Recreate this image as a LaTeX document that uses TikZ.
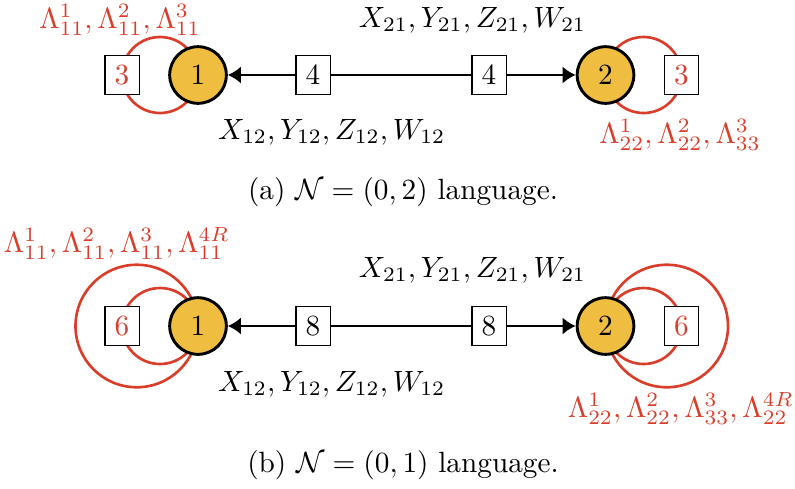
\documentclass[tikz,border=0pt]{standalone}
\usepackage{tikz}
\usetikzlibrary{arrows.meta,backgrounds,calc}
\definecolor{gaugeyellow}{RGB}{239,189,64}
\definecolor{lambdared}{RGB}{218,62,42}
\tikzset{
  gauge/.style={
    circle,
    fill=gaugeyellow,
    draw=black,
    line width=1pt,
    minimum size=0.68cm,
    inner sep=0pt,
  },
  flavour/.style={
    rectangle,
    fill=white,
    draw=black,
  },
  bifund/.style={
    line width=1pt,
    -{Latex[length=4.5pt,width=6pt]},
  },
  lambda/.style={
    draw=lambdared,
    line width=0.9pt,
  },
  fieldtext/.style={
    inner sep=0pt,
  }
}

\begin{document}
\begin{tikzpicture}
  \useasboundingbox (0, 0) rectangle (9.54, 5.856);

  % (a) N=(0,2)
  \node[flavour, text=lambdared] (fa1) at (1.464, 4.956) {3};
  \node[gauge] (ga1) at (2.376, 4.956) {1};
  \node[flavour] (ba1) at (3.756, 4.956) {4};
  \node[flavour] (ba2) at (5.868, 4.956) {4};
  \node[gauge] (ga2) at (7.266, 4.956) {2};
  \node[flavour, text=lambdared] (fa2) at (8.178, 4.956) {3};

  \begin{scope}[on background layer]
    \draw[lambda] ($(fa1)!0.5!(ga1)$) circle (0.456);
    \draw[lambda] ($(ga2)!0.5!(fa2)$) circle (0.456);
  \end{scope}

  \draw[bifund] (ba1) -- (ga1);
  \draw[line width=1pt] (ba1) -- (ba2);
  \draw[bifund] (ba2) -- (ga2);

  \node[fieldtext] (xa21) at (5.67, 5.616) {$X_{21}, Y_{21}, Z_{21}, W_{21}$};
  \node[fieldtext] (xa12) at (3.98, 4.27) {$X_{12}, Y_{12}, Z_{12}, W_{12}$};
  \node[fieldtext, text=lambdared] (la11) at (1.44, 5.616) {$\Lambda^1_{11}, \Lambda^2_{11}, \Lambda^3_{11}$};
  \node[fieldtext, text=lambdared] (la22) at (8.16, 4.236) {$\Lambda^1_{22}, \Lambda^2_{22}, \Lambda^3_{33}$};
  \node[fieldtext] (capa) at (4.836, 3.55) {(a) $\mathcal{N}=(0,2)$ language.};

  % (b) N=(0,1)
  \node[flavour, text=lambdared] (fb1) at (1.464, 1.944) {6};
  \node[gauge] (gb1) at (2.376, 1.944) {1};
  \node[flavour] (bb1) at (3.756, 1.944) {8};
  \node[flavour] (bb2) at (5.868, 1.944) {8};
  \node[gauge] (gb2) at (7.266, 1.944) {2};
  \node[flavour, text=lambdared] (fb2) at (8.178, 1.944) {6};

  \begin{scope}[on background layer]
    \draw[lambda] ($(fb1)!0.5!(gb1)$) circle (0.456);
    \draw[lambda] ($(gb1)+(-0.735,0)$) circle (0.735);
    \draw[lambda] ($(gb2)!0.5!(fb2)$) circle (0.456);
    \draw[lambda] ($(gb2)+(0.735,0)$) circle (0.735);
  \end{scope}

  \draw[bifund] (bb1) -- (gb1);
  \draw[line width=1pt] (bb1) -- (bb2);
  \draw[bifund] (bb2) -- (gb2);

  \node[fieldtext] (xb21) at (5.67, 2.616) {$X_{21}, Y_{21}, Z_{21}, W_{21}$};
  \node[fieldtext] (xb12) at (3.98, 1.25) {$X_{12}, Y_{12}, Z_{12}, W_{12}$};
  \node[fieldtext, text=lambdared] (lb11) at (1.40, 2.93) {$\Lambda^1_{11}, \Lambda^2_{11}, \Lambda^3_{11}, \Lambda^{4R}_{11}$};
  \node[fieldtext, text=lambdared] (lb22) at (8.17, 0.95) {$\Lambda^1_{22}, \Lambda^2_{22}, \Lambda^3_{33}, \Lambda^{4R}_{22}$};
  \node[fieldtext] (capb) at (4.836, 0.276) {(b) $\mathcal{N}=(0,1)$ language.};

\end{tikzpicture}
\end{document}
